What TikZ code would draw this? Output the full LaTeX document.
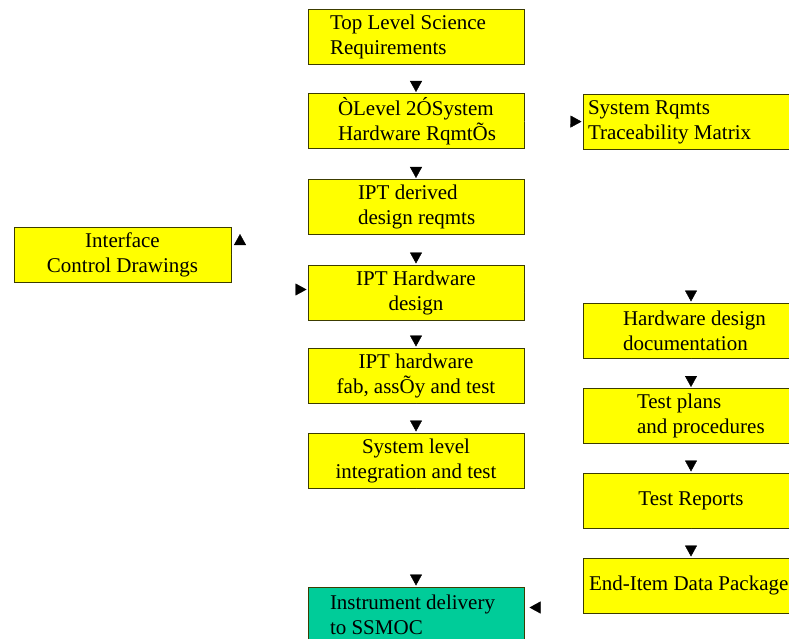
\documentclass[tikz,border=0pt]{standalone}
\usepackage{fontspec}
\setmainfont{Liberation Serif}
\usetikzlibrary{arrows.meta}
\definecolor{boxyellow}{RGB}{255,255,0}
\definecolor{boxgreen}{RGB}{0,204,153}
\definecolor{boxline}{RGB}{60,60,0}

\begin{document}
\begin{tikzpicture}[x=1pt, y=-1pt,
	box/.style={draw=boxline, fill=boxyellow, line width=1pt, minimum width=216pt, minimum height=55pt, inner sep=2pt, font=\fontsize{21}{25}\selectfont},
	lbox/.style={box, align=left, text width=216pt, inner xsep=0pt, execute at begin node={\leftskip=#1\spaceskip=0pt\xspaceskip=0pt\relax}},
	link/.style={draw=white, -{Triangle[width=12pt, length=11pt, color=black, fill=black]}, shorten >=1pt}]
	% page 789 x 639, pixel units, y downwards
	\clip (0,0) rectangle (789,639);
	
	% centre column
	\node[lbox=22pt] (top) at (416,37) {Top Level Science\\Requirements};
	\node[lbox=30pt] (lvl2) at (416,121) {ÒLevel 2ÓSystem\\Hardware RqmtÕs};
	\node[lbox=50pt] (ipt) at (416,207) {IPT derived\\design reqmts};
	\node[box, align=center] (hwd) at (416,292.5) {IPT Hardware\\design};
	\node[box, align=center] (fab) at (416,375.5) {IPT hardware\\fab, assÕy and test};
	\node[box, align=center] (sys) at (416,460.5) {System level\\integration and test};
	\node[lbox=22pt, fill=boxgreen] (deliv) at (416,614.5) {Instrument delivery\\to SSMOC};
	
	% left side
	\node[box, align=center, minimum width=217pt] (icd) at (122.5,254.5) {Interface\\Control Drawings};
	\coordinate (icdtip) at (240,233);
	
	% right column
	\node[lbox=5pt] (trace) at (691,122) {System Rqmts\\Traceability Matrix};
	\node[lbox=40pt] (hwdoc) at (691,330.5) {Hardware design\\documentation};
	\node[lbox=54pt] (tplan) at (691,416) {Test plans\\and procedures};
	\node[box, align=center] (trep) at (691,500.5) {Test Reports};
	\node[lbox=6pt] (endi) at (691,585.5) {End-Item Data Package};
	
	% flow
	\draw[link] (top) -- (lvl2);
	\draw[link] (lvl2) -- (trace);
	\draw[link] (lvl2) -- (ipt);
	\draw[link] (ipt) -- (hwd);
	\draw[link] (hwd.west) -| (icdtip);
	\draw[link] (icd.east) -- ++(20,0) |- ([yshift=3pt]hwd.west);
	\draw[link] (hwd) -- (fab);
	\draw[link] (fab) -- (sys);
	\draw[link] (sys) -- (deliv);
	\draw[link] (hwd.east) -| (hwdoc.north);
	\draw[link] (hwdoc) -- (tplan);
	\draw[link] (tplan) -- (trep);
	\draw[link] (trep) -- (endi);
	\draw[link, shorten >=5pt] (endi.west) -- ++(-20,0) |- ([yshift=7pt]deliv.east);
\end{tikzpicture}
\end{document}
